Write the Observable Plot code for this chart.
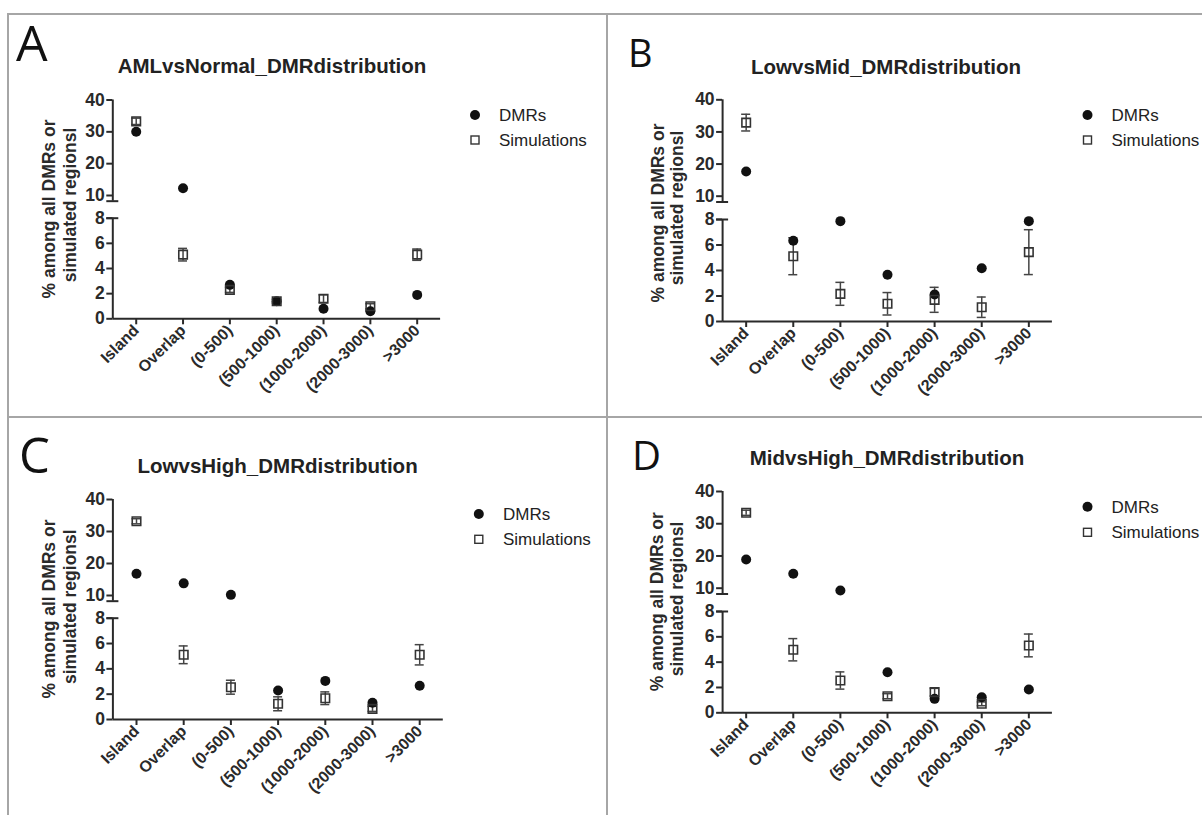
<!DOCTYPE html>
<html>
<head>
<meta charset="utf-8">
<script src="https://cdn.jsdelivr.net/npm/d3@7"></script>
<script src="https://cdn.jsdelivr.net/npm/@observablehq/plot@0.6"></script>
<style>
  body { margin: 0; background: #fff; }
  #root { position: relative; width: 1202px; height: 815px; overflow: hidden; background: #fff; }
  .frame { position: absolute; background: #a6a6a6; }
  .plotbox { position: absolute; }
  .plotbox svg { max-width: none !important; }
  #overlay { position: absolute; left: 0; top: 0; pointer-events: none; }
</style>
</head>
<body>
<div id="root"></div>
<script>
// ---------------- data ----------------
const categories = ["Island", "Overlap", "(0-500)", "(500-1000)", "(1000-2000)", "(2000-3000)", ">3000"];
const yTicks = [0, 2, 4, 6, 8, 10, 20, 30, 40];
const yBreakDomain = [0, 8, 10, 40];
const seriesNames = ["DMRs", "Simulations"];
const yLabelLines = ["% among all DMRs or", "simulated regionsl"];

const titles = ["AMLvsNormal_DMRdistribution", "LowvsMid_DMRdistribution", "LowvsHigh_DMRdistribution", "MidvsHigh_DMRdistribution"];
const letters = ["A", "B", "C", "D"];

// panel A
const dmrA = [30.0, 12.3, 2.7, 1.4, 0.8, 0.6, 1.9];
const simA = [33.3, 5.1, 2.3, 1.4, 1.6, 1.0, 5.1];
const errA = [1.0, 0.5, 0.2, 0.15, 0.3, 0.2, 0.45];
// panel B
const dmrB = [17.7, 6.33, 7.87, 3.66, 2.12, 4.18, 7.87];
const simB = [32.9, 5.12, 2.17, 1.39, 1.7, 1.12, 5.44];
const errB = [2.6, 1.45, 0.9, 0.88, 0.98, 0.8, 1.76];
// panel C
const dmrC = [16.8, 13.8, 10.2, 2.29, 3.05, 1.32, 2.66];
const simC = [33.2, 5.11, 2.55, 1.24, 1.68, 0.84, 5.11];
const errC = [0.8, 0.7, 0.55, 0.55, 0.5, 0.2, 0.8];
// panel D
const dmrD = [18.9, 14.5, 9.8, 3.2, 1.1, 1.23, 1.84];
const simD = [33.4, 4.98, 2.55, 1.31, 1.63, 0.71, 5.32];
const errD = [0.8, 0.88, 0.68, 0.2, 0.3, 0.15, 0.9];

// ---------------- layout (page pixels) ----------------
const panels = [
  { ox: 8, oy: 14, xl: 112.3, xr: 440.1, y0: 318.3, y8: 217.7, y10: 195, y40: 99.5,
    dmr: dmrA, sim: simA, err: errA,
    letter: { x: 16, y: 61, size: 50 }, title: { x: 272, y: 73 },
    ylab: [{ x: 54.5, y: 209 }, { x: 75.5, y: 205 }],
    legend: { dx: 475, tx: 499, y1: 115, y2: 140 } },
  { ox: 607, oy: 14, xl: 722.1, xr: 1051.9, y0: 321, y8: 219, y10: 195.7, y40: 99.3,
    dmr: dmrB, sim: simB, err: errB,
    letter: { x: 628, y: 67, size: 38 }, title: { x: 886, y: 74 },
    ylab: [{ x: 664, y: 213 }, { x: 683, y: 208 }],
    legend: { dx: 1087.5, tx: 1111.5, y1: 115, y2: 140 } },
  { ox: 8, oy: 417, xl: 112.4, xr: 442.8, y0: 719, y8: 617.7, y10: 595, y40: 499,
    dmr: dmrC, sim: simC, err: errC,
    letter: { x: 19, y: 473, size: 49 }, title: { x: 277.6, y: 472.7 },
    ylab: [{ x: 54.5, y: 609 }, { x: 75.5, y: 606.7 }],
    legend: { dx: 478.8, tx: 503, y1: 514, y2: 539.3 } },
  { ox: 607, oy: 417, xl: 722.1, xr: 1051.9, y0: 712.3, y8: 611, y10: 587.7, y40: 491,
    dmr: dmrD, sim: simD, err: errD,
    letter: { x: 632, y: 470, size: 40 }, title: { x: 887, y: 465 },
    ylab: [{ x: 663, y: 601.7 }, { x: 683, y: 599 }],
    legend: { dx: 1087.5, tx: 1111.5, y1: 506.7, y2: 532.3 } }
];

const root = document.getElementById("root");

function line(x, y, w, h) {
  const d = document.createElement("div");
  d.className = "frame";
  Object.assign(d.style, { left: x + "px", top: y + "px", width: w + "px", height: h + "px" });
  root.appendChild(d);
}
line(6.5, 12.5, 1202, 2);
line(6.5, 12.5, 2, 815);
line(605.5, 12.5, 2, 815);
line(6.5, 415.5, 1202, 2);

const FONT = "'Liberation Sans', Arial, Helvetica, sans-serif";
const xMin = -0.5, xMax = 6.5;

function isInAxis(el, prefix) {
  let n = el.parentNode;
  while (n && n.getAttribute) {
    const a = n.getAttribute("aria-label") || "";
    if (a.startsWith(prefix)) return true;
    n = n.parentNode;
  }
  return false;
}

panels.forEach((p, k) => {
  const W = 590, H = 398;
  const rows = categories.map((c, i) => ({ i, c, dmr: p.dmr[i], sim: p.sim[i], lo: p.sim[i] - p.err[i], hi: p.sim[i] + p.err[i] }));
  const ml = p.xl - p.ox, mr = W - (p.xr - p.ox);
  const mt = p.y40 - p.oy, mb = H - (p.y0 - p.oy);
  const yr = [p.y0, p.y8, p.y10, p.y40].map(v => v - p.oy);
  const step = (p.xr - p.xl) / (xMax - xMin);
  const capU = 4.5 / step;
  const barU = 6 / step;
  const axisSegs = [{ y1: 0, y2: 8 }, { y1: 9.5, y2: 40 }];

  const chart = Plot.plot({
    width: W, height: H,
    marginLeft: ml, marginRight: mr, marginTop: mt, marginBottom: mb,
    style: { background: "transparent", fontFamily: FONT, fontSize: "16px", fontWeight: "bold", color: "#2a2a2a", overflow: "visible" },
    x: { type: "linear", domain: [xMin, xMax], ticks: d3.range(categories.length), tickFormat: i => categories[i],
         tickRotate: -45, tickSize: 6, tickPadding: 3, label: null },
    y: { type: "linear", domain: yBreakDomain, range: yr, ticks: yTicks, tickSize: 6, tickPadding: 2, label: null, tickFormat: d => String(d) },
    marks: [
      Plot.ruleY([0], { stroke: "#2a2a2a", strokeWidth: 2 }),
      Plot.ruleX(axisSegs, { x: () => xMin, y1: "y1", y2: "y2", stroke: "#2a2a2a", strokeWidth: 2 }),
      Plot.ruleY([8, 9.5], { x1: xMin - barU, x2: xMin + barU, stroke: "#2a2a2a", strokeWidth: 2 }),
      Plot.ruleX(rows, { x: "i", y1: "lo", y2: "hi", stroke: "#444", strokeWidth: 1.5 }),
      Plot.ruleY(rows, { y: "lo", x1: d => d.i - capU, x2: d => d.i + capU, stroke: "#444", strokeWidth: 1.5 }),
      Plot.ruleY(rows, { y: "hi", x1: d => d.i - capU, x2: d => d.i + capU, stroke: "#444", strokeWidth: 1.5 }),
      Plot.dot(rows, { x: "i", y: "dmr", r: 5, fill: "#111", stroke: "none" }),
      Plot.dot(rows, { x: "i", y: "sim", symbol: "square", r: 4.8, fill: "none", stroke: "#333", strokeWidth: 1.6 })
    ]
  });
  d3.select(chart).selectAll('[aria-label*="axis"] line, [aria-label*="axis"] path')
    .attr("stroke-width", 2).attr("stroke", "#2a2a2a");
  chart.querySelectorAll("text").forEach(t => {
    if (isInAxis(t, "x-axis")) {
      t.style.fontSize = "16px";
    } else {
      t.style.fontSize = "17.5px";
    }
    t.style.fontWeight = "bold";
    t.style.fontFamily = FONT;
    t.setAttribute("fill", "#2a2a2a");
  });

  const box = document.createElement("div");
  box.className = "plotbox";
  box.style.left = p.ox + "px";
  box.style.top = p.oy + "px";
  box.appendChild(chart);
  root.appendChild(box);
});

const svg = d3.select(root).append("svg").attr("id", "overlay").attr("width", 1202).attr("height", 815);
panels.forEach((p, k) => {
  svg.append("text").attr("x", p.letter.x).attr("y", p.letter.y)
    .attr("font-family", "'Open Sans', sans-serif").attr("font-size", p.letter.size).attr("fill", "#111")
    .text(letters[k]);
  svg.append("text").attr("x", p.title.x).attr("y", p.title.y).attr("text-anchor", "middle")
    .attr("font-family", FONT).attr("font-weight", "bold").attr("font-size", 20.5).attr("fill", "#222")
    .text(titles[k]);
  yLabelLines.forEach((t, j) => {
    svg.append("text").attr("transform", `translate(${p.ylab[j].x},${p.ylab[j].y}) rotate(-90)`)
      .attr("text-anchor", "middle").attr("font-family", FONT).attr("font-weight", "bold")
      .attr("font-size", 17.5).attr("fill", "#2a2a2a").text(t);
  });
  const L = p.legend;
  svg.append("circle").attr("cx", L.dx).attr("cy", L.y1).attr("r", 5).attr("fill", "#111");
  svg.append("rect").attr("x", L.dx - 4).attr("y", L.y2 - 4).attr("width", 8).attr("height", 8)
    .attr("fill", "none").attr("stroke", "#333").attr("stroke-width", 1.4);
  [L.y1, L.y2].forEach((yy, j) => {
    svg.append("text").attr("x", L.tx).attr("y", yy).attr("dy", "0.36em")
      .attr("font-family", FONT).attr("font-size", 17).attr("fill", "#222").text(seriesNames[j]);
  });
});
</script>
</body>
</html>
